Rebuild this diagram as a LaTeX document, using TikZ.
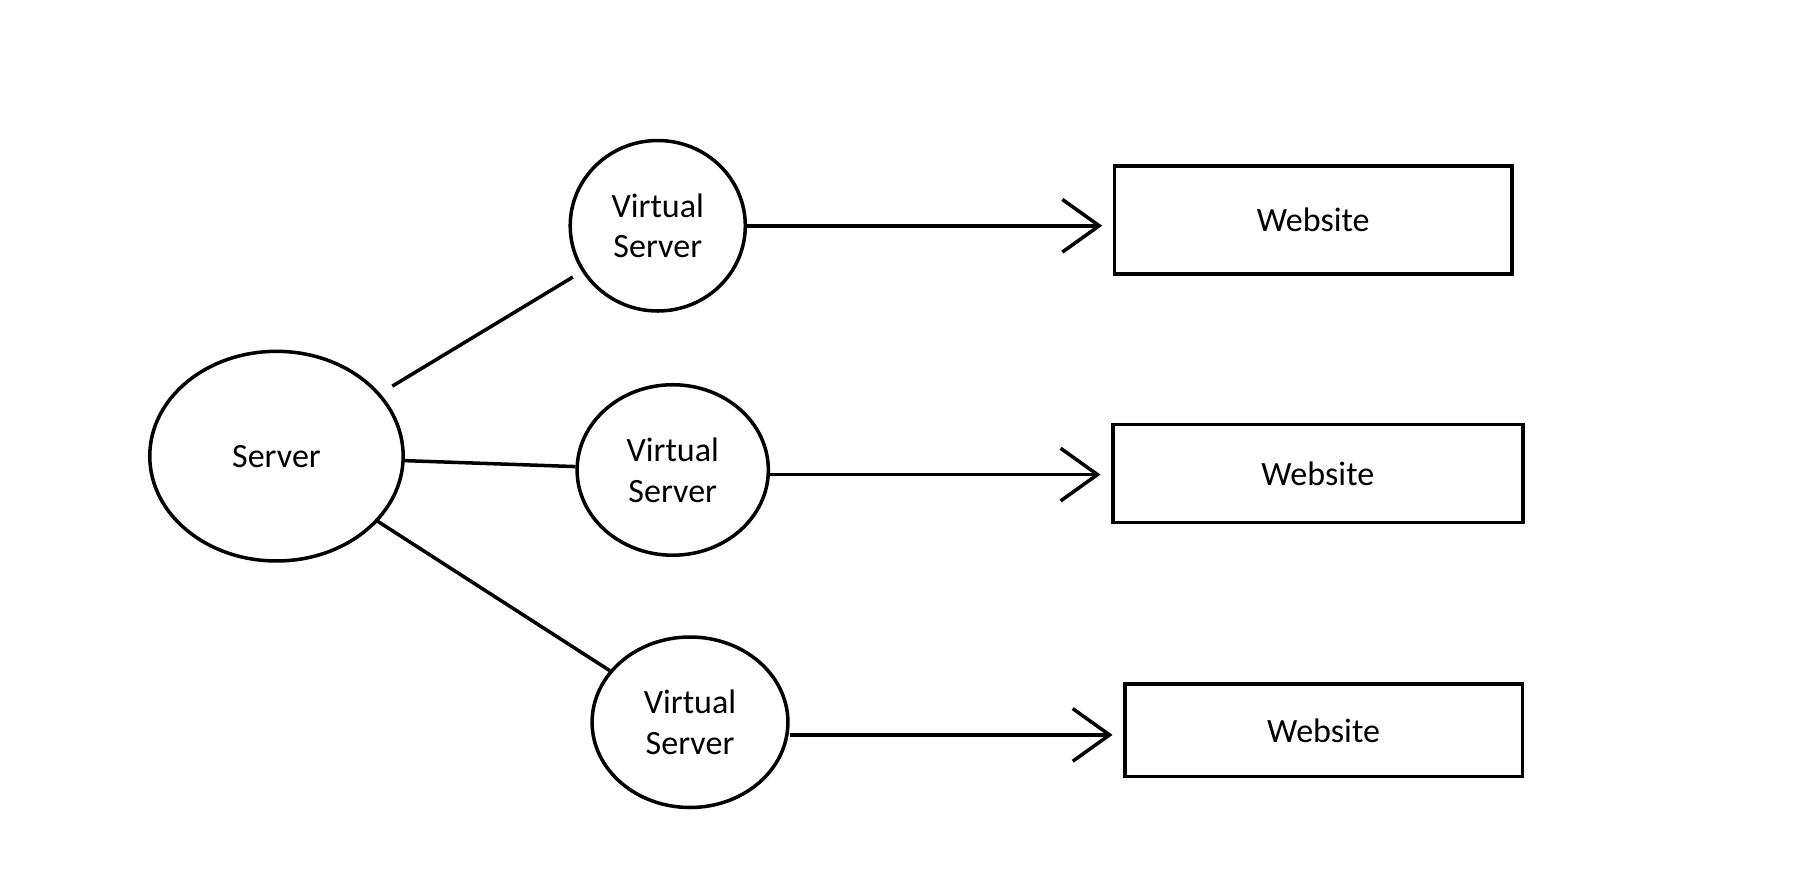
\documentclass[tikz,border=0pt]{standalone}
\usepackage{fontspec}
\setmainfont{Carlito}
\usetikzlibrary{shapes.geometric, arrows.meta}

\begin{document}
\begin{tikzpicture}[x=0.01154cm, y=-0.01154cm, line width=1pt, font=\fontsize{9.7}{11.6}\selectfont,
    host/.style={ellipse, draw, inner sep=0pt, align=center, minimum height={148*0.01154cm}},
    site/.style={rectangle, draw, inner sep=0pt},
    link/.style={-{Straight Barb[length=10.5pt, width=15pt, line width=1pt]}, shorten >=3pt}]

\useasboundingbox (0,0) rectangle (1560,776);

% server and its virtual servers
\node[host, minimum width={220*0.01154cm}, minimum height={182*0.01154cm}] (srv) at (240,396) {Server};
\node[host, minimum width={152*0.01154cm}] (vs1) at (571,196) {Virtual\\Server};
\node[host, minimum width={166*0.01154cm}] (vs2) at (584,408) {Virtual\\Server};
\node[host, minimum width={170*0.01154cm}] (vs3) at (599,627) {Virtual\\Server};

% websites
\node[site, minimum width={345*0.01154cm}, minimum height={94*0.01154cm}] (web1) at (1140,191) {Website};
\node[site, minimum width={356*0.01154cm}, minimum height={85*0.01154cm}] (web2) at (1144,411) {Website};
\node[site, minimum width={345*0.01154cm}, minimum height={80*0.01154cm}] (web3) at (1149,634) {Website};

\draw[shorten <=4pt, shorten >=3pt] (srv) -- (vs1);
\draw (srv) -- (vs2);
\draw (srv) -- (vs3);

\draw[link] (vs1) -- (vs1 -| web1.west);
\draw[link] (vs2.east |- 0,412) -- (web2.west |- 0,412);
\draw[link] (vs3.east |- 0,638) -- (web3.west |- 0,638);

\end{tikzpicture}
\end{document}
